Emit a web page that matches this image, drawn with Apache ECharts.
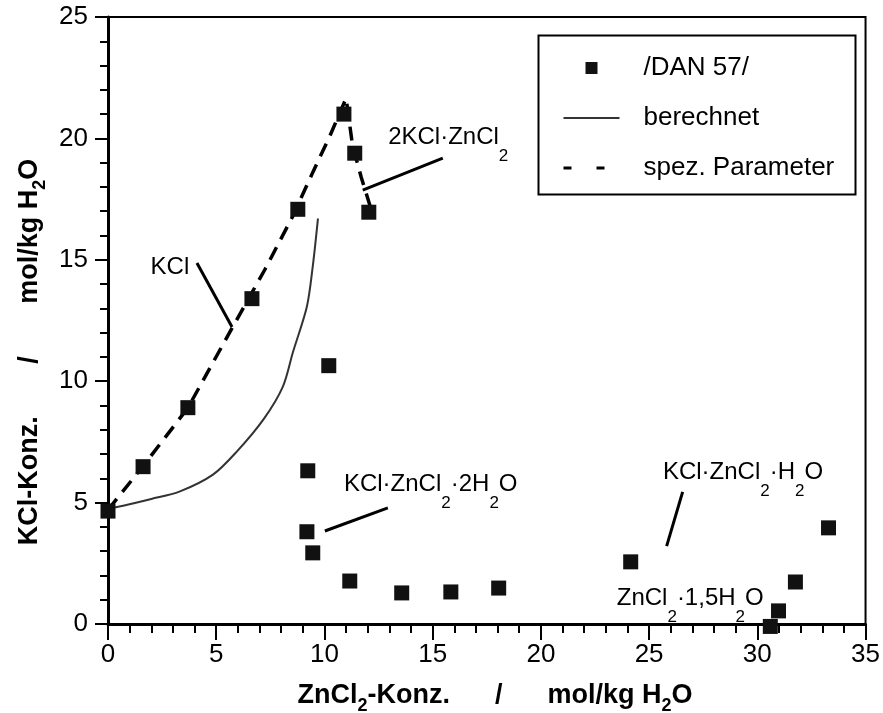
<!DOCTYPE html>
<html>
<head>
<meta charset="utf-8">
<script src="https://cdn.jsdelivr.net/npm/echarts@6/dist/echarts.min.js"></script>
<style>
  html, body { margin: 0; padding: 0; background: #fff; }
  #chart { width: 883px; height: 713px; }
</style>
</head>
<body>
<div id="chart"></div>
<script>
// measured points /DAN 57/
const danX = [0, 1.62, 3.69, 6.65, 8.77, 10.9, 11.4, 12.05, 10.2, 9.23, 9.19, 9.46, 11.17, 13.57, 15.84, 18.05, 24.15, 30.6, 30.98, 31.76, 33.29]
const danY = [4.65, 6.48, 8.91, 13.4, 17.08, 21.0, 19.39, 16.96, 10.64, 6.31, 3.8, 2.93, 1.77, 1.28, 1.32, 1.48, 2.56, -0.1, 0.54, 1.73, 3.96]

// model curve "berechnet"
const calcX = [0, 0.7, 2.0, 3.3, 4.85, 5.95, 7.2, 8.08, 8.54, 9.19, 9.46, 9.7]
const calcY = [4.75, 4.87, 5.15, 5.45, 6.15, 7.1, 8.45, 9.78, 11.18, 13.08, 14.73, 16.7]

// curve "spez. Parameter"
const specX = [0, 1.62, 3.69, 5.77, 7.25, 8.54, 9.46, 10.25, 11.0, 11.3, 11.7, 12.15]
const specY = [4.7, 6.5, 8.9, 12.25, 14.6, 16.8, 18.6, 20.1, 21.65, 19.7, 18.4, 17.1]

// phase labels and their leader lines
const labelTexts = [
  '{k|KCl}',
  '{n|2KCl·ZnCl}{s|2}',
  '{n|KCl·ZnCl}{s|2}{n|·2H}{s|2}{n|O}',
  '{n|KCl·ZnCl}{s|2}{n|·H}{s|2}{n|O}',
  '{n|ZnCl}{s|2}{n|·1,5H}{s|2}{n|O}'
]
const labelX = [2.86, 15.72, 14.91, 29.34, 26.9]
const labelY = [14.7, 19.72, 5.44, 5.92, 0.74]

const leaderFrom = [[4.11, 14.87], [11.77, 17.87], [10.02, 3.83], [26.55, 5.44]]
const leaderTo = [[5.73, 12.23], [15.47, 19.19], [12.93, 4.78], [25.81, 3.21]]

const FONT = '"Liberation Sans", Arial, Helvetica, sans-serif'

const richNormal = {
  k: { fontFamily: FONT, fontSize: 24, lineHeight: 28, color: '#000' },
  n: { fontFamily: FONT, fontSize: 24, lineHeight: 28, color: '#000', verticalAlign: 'top' },
  s: { fontFamily: FONT, fontSize: 17, lineHeight: 40, color: '#000', verticalAlign: 'bottom' }
}
const richBold = {
  n: { fontFamily: FONT, fontSize: 27, fontWeight: 'bold', lineHeight: 30, color: '#000', verticalAlign: 'top' },
  s: { fontFamily: FONT, fontSize: 18, fontWeight: 'bold', lineHeight: 33, color: '#000', verticalAlign: 'bottom' }
}

const chart = echarts.init(document.getElementById('chart'))

chart.setOption({
  animation: false,
  backgroundColor: '#fff',
  grid: {
    left: 108, right: 17, top: 17, bottom: 89,
    show: true, borderColor: '#000', borderWidth: 2
  },
  legend: {
    orient: 'vertical',
    left: 536, top: 33,
    padding: [22, 10, 10, 26],
    itemGap: 24,
    itemWidth: 56,
    itemHeight: 14,
    formatter: '{t|{name}}',
    textStyle: {
      color: '#000',
      rich: { t: { fontFamily: FONT, fontSize: 26, lineHeight: 30, color: '#000', padding: [0, 0, 0, 19] } }
    },
    data: [
      { name: '/DAN 57/', icon: 'path://M0,7L0,7M56,7L56,7M22,1L34,1L34,13L22,13Z' },
      { name: 'berechnet', itemStyle: { color: 'rgba(0,0,0,0)', borderWidth: 0 }, lineStyle: { width: 2 } },
      { name: 'spez. Parameter', itemStyle: { color: 'rgba(0,0,0,0)', borderWidth: 0 }, lineStyle: { type: [8, 25], width: 3 } }
    ]
  },
  xAxis: {
    type: 'value', min: 0, max: 35, interval: 5,
    axisLine: { onZero: false, lineStyle: { color: '#000', width: 3 } },
    axisTick: { inside: false, length: 16, lineStyle: { color: '#000', width: 2 } },
    minorTick: { show: true, splitNumber: 5, length: 9, lineStyle: { color: '#000', width: 2 } },
    splitLine: { show: false },
    axisLabel: { color: '#000', fontFamily: FONT, fontSize: 26, margin: 18 }
  },
  yAxis: {
    type: 'value', min: 0, max: 25, interval: 5,
    axisLine: { onZero: false, lineStyle: { color: '#000', width: 3 } },
    axisTick: { inside: false, length: 13, lineStyle: { color: '#000', width: 2 } },
    minorTick: { show: true, splitNumber: 5, length: 8, lineStyle: { color: '#000', width: 2 } },
    splitLine: { show: false },
    axisLabel: { color: '#000', fontFamily: FONT, fontSize: 26, margin: 20 }
  },
  graphic: [
    {
      type: 'rect', left: 536, top: 33, silent: true,
      shape: { width: 317, height: 159 },
      style: { fill: null, stroke: '#000', lineWidth: 2 }
    },
    {
      type: 'text', x: 495, y: 699, silent: true,
      style: {
        text: '{n|ZnCl}{s|2}{n|-Konz.      /      mol/kg H}{s|2}{n|O}',
        rich: richBold, align: 'center', verticalAlign: 'middle'
      }
    },
    {
      type: 'text', x: 33, y: 352, rotation: Math.PI / 2, silent: true,
      style: {
        text: '{n|KCl-Konz.       /       mol/kg H}{s|2}{n|O}',
        rich: richBold, align: 'center', verticalAlign: 'middle'
      }
    }
  ],
  series: [
    {
      name: 'spez. Parameter',
      type: 'line',
      symbol: 'none',
      lineStyle: { color: '#000', width: 3.5, type: [14, 9] },
      itemStyle: { color: '#000' },
      data: specX.map((x, i) => [x, specY[i]]),
      z: 2
    },
    {
      name: 'berechnet',
      type: 'line',
      symbol: 'none',
      smooth: 0.3,
      lineStyle: { color: '#333', width: 2 },
      itemStyle: { color: '#333' },
      data: calcX.map((x, i) => [x, calcY[i]]),
      z: 2
    },
    {
      name: '/DAN 57/',
      type: 'scatter',
      symbol: 'rect',
      symbolSize: 15,
      clip: false,
      itemStyle: { color: '#111', opacity: 1 },
      data: danX.map((x, i) => [x, danY[i]]),
      z: 3
    },
    {
      name: 'labels',
      type: 'scatter',
      symbolSize: 0,
      silent: true,
      itemStyle: { opacity: 1 },
      label: {
        show: true,
        position: 'inside',
        formatter: (p) => labelTexts[p.dataIndex],
        rich: richNormal
      },
      data: labelX.map((x, i) => [x, labelY[i]]),
      markLine: {
        silent: true,
        symbol: 'none',
        label: { show: false },
        lineStyle: { color: '#000', width: 3, type: 'solid', opacity: 1 },
        data: leaderFrom.map((p, i) => [{ coord: p }, { coord: leaderTo[i] }])
      }
    }
  ]
})
</script>
</body>
</html>
